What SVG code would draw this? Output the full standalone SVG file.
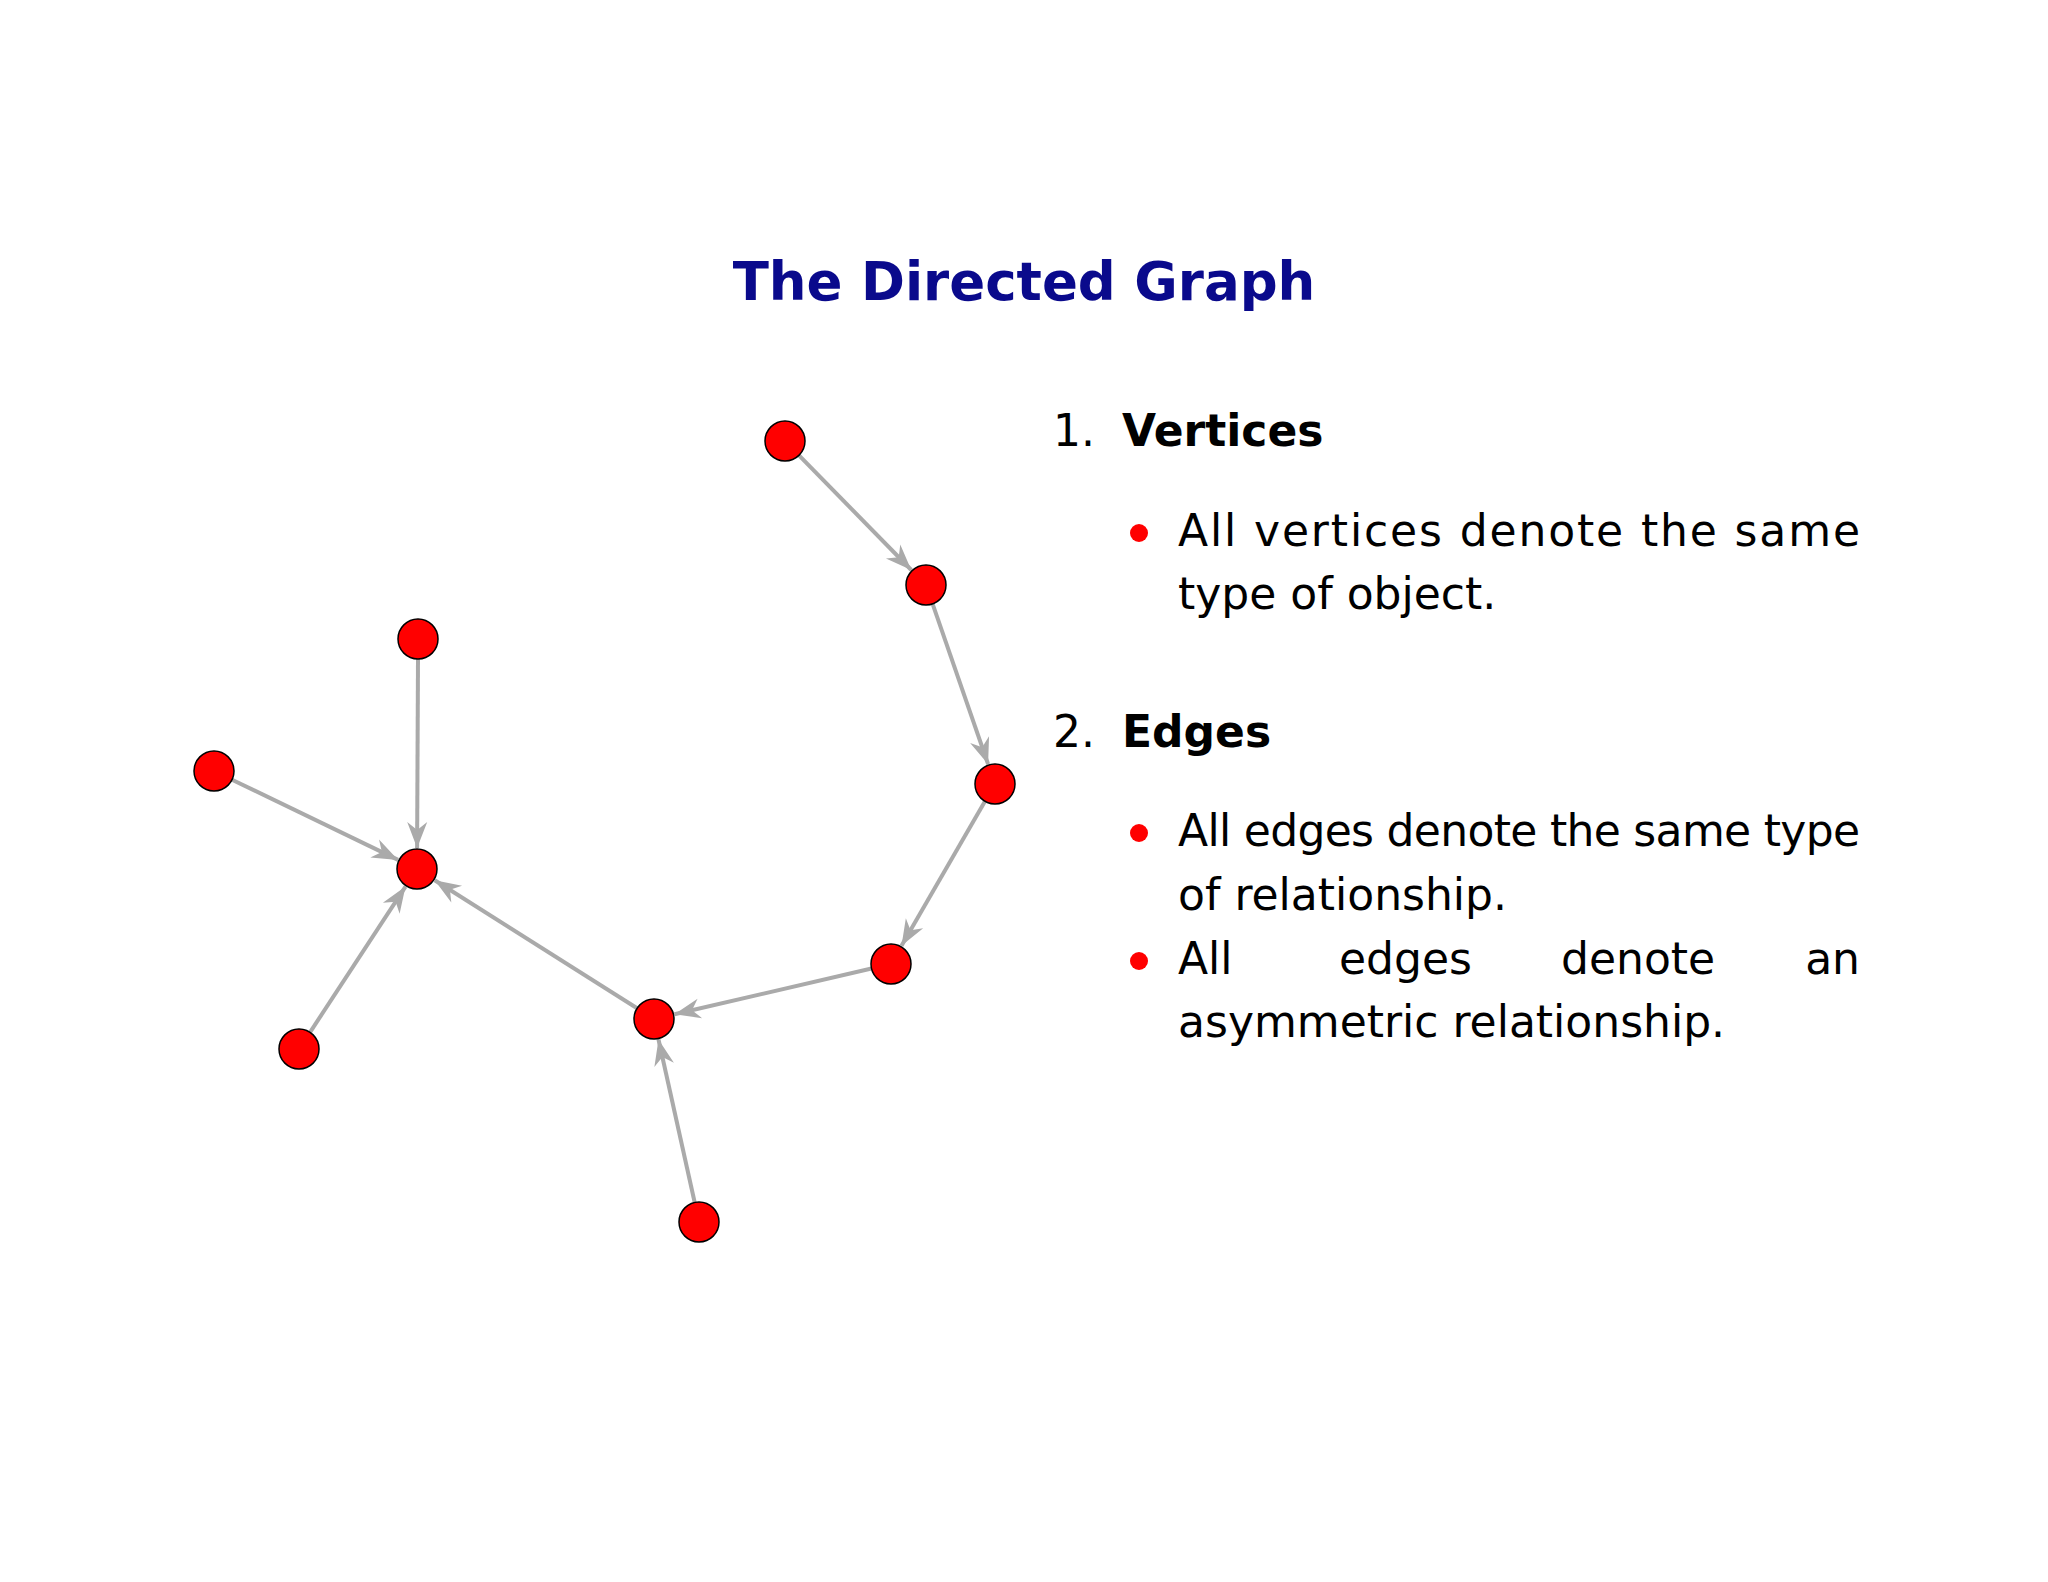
<svg xmlns="http://www.w3.org/2000/svg" width="2048" height="1582" viewBox="0 0 2048 1582">
<defs>
<style>
.e{stroke:#aaaaaa;stroke-width:4;fill:none;marker-end:url(#ah)}
.n{fill:#ff0000;stroke:#000;stroke-width:1.5}
.t{font-family:"DejaVu Sans","Liberation Sans",sans-serif;font-size:44px;fill:#000}
.b{font-weight:bold}
</style>
<marker id="ah" markerUnits="userSpaceOnUse" viewBox="-28 -12 30 24" refX="0" refY="0" markerWidth="30" markerHeight="24" orient="auto">
<path d="M0,0 L-26,-10 L-18,0 L-26,10 z" fill="#aaaaaa"/>
</marker>
</defs>
<rect width="2048" height="1582" fill="#fff"/>
<text x="1024" y="300" text-anchor="middle" font-family="DejaVu Sans,Liberation Sans,sans-serif" font-weight="bold" font-size="53" fill="#0a0a8c">The Directed Graph</text>
<g id="connectors">
<line class="e" x1="799" y1="455.3" x2="911.3" y2="570"/>
<line class="e" x1="932.6" y1="603.9" x2="988.1" y2="764.2"/>
<line class="e" x1="985" y1="801.3" x2="901.5" y2="945.8"/>
<line class="e" x1="871.5" y1="968.5" x2="674.5" y2="1014.3"/>
<line class="e" x1="637.1" y1="1008.3" x2="434.7" y2="880.2"/>
<line class="e" x1="418" y1="659" x2="417.1" y2="848"/>
<line class="e" x1="232" y1="779.7" x2="398.1" y2="859.9"/>
<line class="e" x1="310" y1="1032.3" x2="405.5" y2="886.6"/>
<line class="e" x1="694.7" y1="1202.5" x2="658.5" y2="1039.5"/>
</g>
<g id="nA"><circle class="n" cx="785" cy="441" r="20"/></g>
<g id="nB"><circle class="n" cx="926" cy="585" r="20"/></g>
<g id="nC"><circle class="n" cx="995" cy="784" r="20"/></g>
<g id="nD"><circle class="n" cx="891" cy="964" r="20"/></g>
<g id="nE"><circle class="n" cx="654" cy="1019" r="20"/></g>
<g id="nF"><circle class="n" cx="699" cy="1222" r="20"/></g>
<g id="nG"><circle class="n" cx="417" cy="869" r="20"/></g>
<g id="nH"><circle class="n" cx="418" cy="639" r="20"/></g>
<g id="nI"><circle class="n" cx="214" cy="771" r="20"/></g>
<g id="nJ"><circle class="n" cx="299" cy="1049" r="20"/></g>
<g id="list">
<text class="t" x="1053" y="446">1.</text>
<text class="t b" x="1122" y="446">Vertices</text>
<circle cx="1139" cy="533" r="9" fill="#ff0000"/>
<text class="t" x="1178" y="546" textLength="682" lengthAdjust="spacing">All vertices denote the same</text>
<text class="t" x="1178" y="609">type of object.</text>
<text class="t" x="1053" y="747">2.</text>
<text class="t b" x="1122" y="747">Edges</text>
<circle cx="1139" cy="833" r="9" fill="#ff0000"/>
<text class="t" x="1178" y="846" textLength="682" lengthAdjust="spacing">All edges denote the same type</text>
<text class="t" x="1178" y="910">of relationship.</text>
<circle cx="1139" cy="961" r="9" fill="#ff0000"/>
<text class="t" x="1178" y="974">All</text>
<text class="t" x="1339" y="974">edges</text>
<text class="t" x="1561" y="974">denote</text>
<text class="t" x="1860" y="974" text-anchor="end">an</text>
<text class="t" x="1178" y="1037">asymmetric relationship.</text>
</g>
</svg>
